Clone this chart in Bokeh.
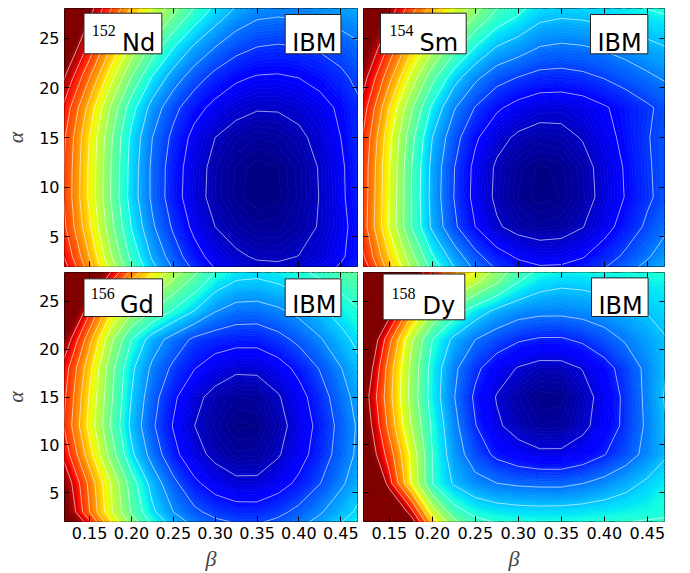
import numpy as np
from bokeh.plotting import figure
from bokeh.plotting.contour import contour_data
from bokeh.models import (Range1d, FixedTicker, LinearAxis, BoxAnnotation, Label,
                          ColumnDataSource, NumeralTickFormatter)
from bokeh.transform import linear_cmap
from bokeh.layouts import column, row
from bokeh.embed import file_html
from bokeh.resources import INLINE

# ---------------- data ----------------
BETA = [0.100, 0.125, 0.150, 0.175, 0.200, 0.225, 0.250, 0.275,
        0.300, 0.325, 0.350, 0.375, 0.400, 0.425, 0.450, 0.475]
ALPHA = [0, 3, 6, 9, 12, 15, 18, 21, 24, 27, 30]

Z_ND152 = [
    [18.2, 15.8, 13.3, 10.6, 8.1, 6.05, 4.6, 3.45, 2.55, 2.05, 1.75, 1.7, 1.8, 2.1, 2.55, 3.1],
    [16.85, 14.45, 11.95, 9.15, 6.7, 4.85, 3.5, 2.4, 1.6, 1.15, 0.9, 0.86, 1.02, 1.35, 1.86, 2.55],
    [16.15, 13.65, 11.15, 8.35, 5.95, 4.15, 2.85, 1.75, 1.0, 0.6, 0.39, 0.41, 0.63, 1.07, 1.71, 2.55],
    [15.9, 13.4, 10.75, 8.0, 5.55, 3.8, 2.45, 1.4, 0.68, 0.29, 0.12, 0.19, 0.49, 1.03, 1.79, 2.78],
    [15.95, 13.45, 10.8, 8.05, 5.6, 3.8, 2.5, 1.45, 0.71, 0.32, 0.15, 0.22, 0.52, 1.06, 1.82, 2.8],
    [16.1, 13.6, 10.95, 8.2, 5.75, 4.0, 2.75, 1.7, 1.0, 0.62, 0.46, 0.53, 0.8, 1.29, 2.0, 2.9],
    [16.8, 14.2, 11.6, 8.9, 6.4, 4.6, 3.3, 2.35, 1.72, 1.28, 1.07, 1.08, 1.27, 1.64, 2.18, 2.9],
    [18.1, 15.5, 13.0, 10.4, 7.9, 5.9, 4.5, 3.45, 2.65, 2.15, 1.9, 1.86, 2.0, 2.3, 2.75, 3.36],
    [19.6, 17.0, 14.6, 12.0, 9.6, 7.6, 6.0, 4.8, 3.95, 3.3, 2.95, 2.85, 2.93, 3.12, 3.43, 3.84],
    [21.3, 18.6, 16.0, 13.6, 11.3, 9.4, 7.8, 6.4, 5.35, 4.5, 4.05, 3.95, 4.01, 4.15, 4.37, 4.67],
    [23.0, 20.3, 17.4, 15.1, 12.9, 11.1, 9.5, 8.0, 6.6, 5.7, 5.15, 5.0, 5.05, 5.17, 5.35, 5.6],
]
Z_SM154 = [
    [17.5, 15.0, 12.4, 9.8, 7.5, 5.9, 4.6, 3.7, 3.15, 2.9, 2.94, 3.2, 3.72, 4.32, 4.94, 5.54],
    [16.0, 13.6, 11.0, 8.4, 6.1, 4.55, 3.3, 2.4, 1.87, 1.62, 1.65, 1.94, 2.52, 3.2, 3.9, 4.57],
    [15.6, 12.9, 9.9, 7.05, 4.8, 3.2, 2.0, 1.12, 0.67, 0.49, 0.58, 0.97, 1.64, 2.41, 3.18, 3.93],
    [15.7, 13.0, 10.0, 7.05, 4.65, 3.0, 1.7, 0.81, 0.33, 0.14, 0.23, 0.62, 1.29, 2.06, 2.83, 3.45],
    [15.75, 13.05, 10.05, 7.1, 4.7, 3.05, 1.75, 0.86, 0.38, 0.19, 0.28, 0.67, 1.34, 2.11, 2.88, 3.45],
    [16.0, 13.3, 10.3, 7.4, 5.0, 3.4, 2.15, 1.3, 0.84, 0.65, 0.73, 1.06, 1.63, 2.28, 2.94, 3.45],
    [16.6, 13.9, 11.0, 8.2, 5.8, 4.1, 2.95, 2.15, 1.65, 1.35, 1.31, 1.5, 1.9, 2.35, 2.85, 3.35],
    [17.6, 14.9, 12.3, 9.7, 7.3, 5.4, 4.2, 3.35, 2.95, 2.65, 2.61, 2.75, 3.03, 3.41, 3.8, 4.17],
    [19.0, 16.2, 13.7, 11.3, 9.2, 7.4, 5.9, 4.9, 4.45, 3.93, 3.8, 3.89, 4.1, 4.38, 4.7, 4.99],
    [21.0, 17.8, 15.2, 12.9, 11.0, 9.4, 7.8, 6.5, 5.85, 5.17, 5.0, 5.07, 5.22, 5.44, 5.68, 5.89],
    [23.5, 19.6, 16.8, 14.5, 12.8, 11.2, 9.6, 8.0, 7.17, 6.3, 6.1, 6.16, 6.31, 6.51, 6.73, 6.93],
]
Z_GD156 = [
    [22.5, 19.0, 15.5, 12.0, 9.0, 6.9, 5.6, 4.7, 4.1, 3.85, 3.77, 4.04, 4.48, 5.02, 5.62, 6.22],
    [18.0, 15.0, 12.0, 9.2, 6.9, 5.2, 4.0, 3.2, 2.7, 2.45, 2.43, 2.75, 3.26, 3.89, 4.59, 5.29],
    [17.0, 14.4, 11.7, 9.0, 6.5, 4.6, 3.25, 2.2, 1.54, 1.19, 1.19, 1.58, 2.2, 2.97, 3.82, 4.67],
    [15.67, 13.1, 10.37, 7.6, 5.2, 3.6, 2.28, 1.33, 0.76, 0.45, 0.47, 0.91, 1.61, 2.46, 3.41, 4.36],
    [14.9, 12.4, 9.65, 6.98, 4.74, 3.15, 1.94, 1.01, 0.47, 0.17, 0.21, 0.67, 1.4, 2.3, 3.3, 4.3],
    [15.14, 12.64, 9.89, 7.22, 4.98, 3.39, 2.18, 1.25, 0.71, 0.41, 0.45, 0.91, 1.64, 2.54, 3.54, 4.54],
    [15.5, 13.0, 10.3, 7.4, 5.2, 3.8, 2.8, 2.04, 1.48, 1.16, 1.18, 1.59, 2.25, 3.06, 3.96, 4.86],
    [17.0, 14.3, 11.3, 8.3, 6.0, 4.5, 3.6, 2.8, 2.5, 2.34, 2.33, 2.68, 3.23, 3.9, 4.65, 5.4],
    [19.5, 16.5, 13.2, 10.2, 8.2, 7.0, 5.9, 5.0, 4.06, 3.61, 3.57, 3.84, 4.28, 4.82, 5.42, 6.02],
    [23.0, 19.8, 16.0, 13.0, 10.8, 9.2, 7.8, 6.63, 5.49, 4.93, 4.85, 5.07, 5.42, 5.86, 6.34, 6.82],
    [27.0, 23.0, 19.0, 16.0, 13.5, 11.6, 9.8, 8.33, 6.85, 6.17, 6.05, 6.24, 6.55, 6.92, 7.34, 7.76],
]
Z_DY158 = [
    [27.0, 23.5, 20.0, 15.5, 11.0, 8.0, 6.4, 5.9, 5.7, 5.62, 5.5, 5.55, 5.6, 5.7, 5.8, 5.9],
    [21.0, 17.5, 14.5, 11.5, 7.5, 5.4, 4.7, 4.45, 4.35, 4.3, 4.33, 4.4, 4.5, 4.6, 4.7, 4.8],
    [19.0, 15.5, 11.4, 8.0, 5.0, 3.9, 3.3, 3.0, 2.85, 2.8, 2.79, 2.98, 3.3, 3.7, 4.15, 4.6],
    [16.0, 13.0, 10.5, 7.8, 5.0, 3.5, 2.5, 1.8, 1.4, 1.16, 1.16, 1.46, 1.96, 2.57, 3.28, 3.98],
    [15.05, 12.5, 9.68, 7.05, 4.84, 3.28, 2.04, 1.14, 0.63, 0.35, 0.38, 0.78, 1.43, 2.23, 3.17, 4.09],
    [14.62, 12.12, 9.33, 6.7, 4.55, 3.05, 1.84, 0.94, 0.45, 0.17, 0.21, 0.64, 1.35, 2.22, 3.24, 4.24],
    [15.5, 12.7, 9.5, 6.8, 4.6, 3.2, 2.2, 1.45, 0.94, 0.66, 0.68, 1.04, 1.65, 2.39, 3.25, 4.1],
    [16.5, 13.5, 10.3, 7.2, 5.0, 3.8, 3.0, 2.5, 2.1, 1.91, 1.9, 2.16, 2.59, 3.11, 3.6, 4.0],
    [19.0, 15.8, 12.6, 9.5, 7.0, 5.5, 4.5, 3.8, 3.4, 3.25, 3.24, 3.35, 3.55, 3.8, 4.05, 4.3],
    [23.0, 19.5, 15.8, 12.5, 10.0, 8.4, 7.2, 6.1, 5.0, 4.4, 4.2, 4.25, 4.35, 4.45, 4.55, 4.65],
    [27.0, 23.5, 19.5, 15.8, 13.0, 11.0, 9.4, 7.6, 6.3, 5.6, 5.3, 5.3, 5.35, 5.4, 5.45, 5.5],
]
MASS = ["152", "154", "156", "158"]
ELEMENT = ["Nd", "Sm", "Gd", "Dy"]
MODEL = "IBM"
CAP = [16.5, 16.0, 15.0, 12.5]          # colour-scale top (saturated dark red above)
X_TICKS = [0.15, 0.20, 0.25, 0.30, 0.35, 0.40, 0.45]
Y_TICKS = [5, 10, 15, 20, 25]
X_RANGE = (0.12, 0.47)
Y_RANGE = (2, 28)

# ---------------- style ----------------
def jet_palette(n=256):
    t = np.linspace(0, 1, n)
    r = np.interp(t, [0, 0.35, 0.66, 0.89, 1], [0, 0, 1, 1, 0.5])
    g = np.interp(t, [0, 0.125, 0.375, 0.64, 0.91, 1], [0, 0, 1, 1, 0, 0])
    b = np.interp(t, [0, 0.11, 0.34, 0.65, 1], [0.5, 1, 1, 0, 0])
    return ["#%02x%02x%02x" % (int(round(255 * a)), int(round(255 * c)), int(round(255 * d)))
            for a, c, d in zip(r, g, b)]

JET = jet_palette()
FRAME_W, FRAME_H = 301, 258
TICK_FONT = "DejaVu Sans"
LABEL_FONT = "Liberation Serif"

def fx(px):
    return X_RANGE[0] + px * (X_RANGE[1] - X_RANGE[0]) / FRAME_W

def fy(py):
    return Y_RANGE[1] - py * (Y_RANGE[1] - Y_RANGE[0]) / FRAME_H

def style_axis(ax, ticks, labels, fmt=None):
    ax.ticker = FixedTicker(ticks=ticks)
    ax.major_tick_in = 5
    ax.major_tick_out = 0
    ax.major_tick_line_color = "black"
    ax.minor_tick_line_color = None
    ax.axis_line_color = None
    if labels:
        ax.major_label_text_font = TICK_FONT
        ax.major_label_text_font_size = "16px"
        ax.major_label_text_color = "black"
        ax.major_label_standoff = 5
        if fmt is not None:
            ax.formatter = fmt
    else:
        ax.major_label_text_font_size = "0px"
        ax.major_label_text_color = None
        ax.major_label_standoff = 0

BOXES = [
    dict(box=(20, 4.7, 100, 45.3), mx=28, ex=59, mb=22, eb=34, ibox=(226.7, 6, 284, 45.3), ix=234),
    dict(box=(17, 4.7, 102.7, 45.3), mx=26, ex=56, mb=22, eb=34, ibox=(227, 6, 284.3, 45.3), ix=234),
    dict(box=(20, 6.6, 100.7, 45.6), mx=27, ex=57, mb=22, eb=34, ibox=(226.7, 6.6, 284, 45.6), ix=234),
    dict(box=(19.6, 1.6, 101.3, 49), mx=28, ex=59, mb=22, eb=35, ibox=(228, 5.6, 284.6, 45.6), ix=235),
]

def make_panel(i, z, is_left, is_top):
    ml = 56 if is_left else 3
    mr = 3 if is_left else 26
    mt = 8 if is_top else 3
    mb = 3 if is_top else 43
    p = figure(width=ml + FRAME_W + mr, height=mt + FRAME_H + mb,
               x_range=Range1d(*X_RANGE), y_range=Range1d(*Y_RANGE),
               output_backend="svg", toolbar_location=None,
               min_border_left=ml, min_border_right=mr,
               min_border_top=mt, min_border_bottom=mb)
    p.xgrid.visible = False
    p.ygrid.visible = False
    p.outline_line_color = "black"
    p.outline_line_width = 1
    p.background_fill_color = "white"
    p.border_fill_color = "white"

    zarr = np.array(z, dtype=float)
    cap = CAP[i]
    fill_levels = list(np.linspace(0.0, cap, 145)) + [1000.0]
    cd = contour_data(x=BETA, y=ALPHA, z=zarr, levels=fill_levels, want_fill=True, want_line=False)
    fd = cd.fill_data
    src = ColumnDataSource(dict(xs=fd.xs, ys=fd.ys, lower=list(fd.lower_levels)))
    cmap = linear_cmap("lower", JET, 0.0, cap, high_color=JET[-1])
    p.multi_polygons(xs="xs", ys="ys", source=src, fill_color=cmap, line_color=cmap, line_width=0.7)

    line_levels = [float(v) for v in np.arange(1, cap)]
    cl = contour_data(x=BETA, y=ALPHA, z=zarr, levels=line_levels, want_fill=False, want_line=True)
    ld = cl.line_data
    p.multi_line(xs=ld.xs, ys=ld.ys, line_color="white", line_alpha=0.6, line_width=1)

    bottom_ax = p.below[0]
    left_ax = p.left[0]
    style_axis(bottom_ax, X_TICKS, not is_top, NumeralTickFormatter(format="0.00"))
    style_axis(left_ax, Y_TICKS, is_left)
    top_ax = LinearAxis()
    style_axis(top_ax, X_TICKS, False)
    p.add_layout(top_ax, "above")
    right_ax = LinearAxis()
    style_axis(right_ax, Y_TICKS, False)
    p.add_layout(right_ax, "right")

    if is_left:
        left_ax.axis_label = "\u03b1"
        left_ax.axis_label_text_font = LABEL_FONT
        left_ax.axis_label_text_font_style = "italic"
        left_ax.axis_label_text_font_size = "22px"
        left_ax.axis_label_standoff = 8
    if not is_top:
        bottom_ax.axis_label = "\u03b2"
        bottom_ax.axis_label_text_font = LABEL_FONT
        bottom_ax.axis_label_text_font_style = "italic"
        bottom_ax.axis_label_text_font_size = "22px"
        bottom_ax.axis_label_standoff = 4

    g = BOXES[i]
    l, t, r, b = g["box"]
    p.add_layout(BoxAnnotation(left=fx(l), right=fx(r), top=fy(t), bottom=fy(b),
                               fill_color="white", fill_alpha=1.0,
                               line_color="#222222", line_width=1, line_alpha=1.0))
    l, t, r, b = g["ibox"]
    p.add_layout(BoxAnnotation(left=fx(l), right=fx(r), top=fy(t), bottom=fy(b),
                               fill_color="white", fill_alpha=1.0,
                               line_color="#222222", line_width=1, line_alpha=1.0))
    p.add_layout(Label(x=fx(g["mx"]), y=fy(g["mb"]), text=MASS[i], text_font=LABEL_FONT,
                       text_font_size="16px", text_color="black",
                       text_align="left", text_baseline="alphabetic"))
    p.add_layout(Label(x=fx(g["ex"]), y=fy(g["eb"]), text=ELEMENT[i], text_font=TICK_FONT,
                       text_font_size="24px", text_color="black",
                       text_align="left", text_baseline="alphabetic"))
    p.add_layout(Label(x=fx(g["ix"]), y=fy(g["eb"]), text=MODEL, text_font=TICK_FONT,
                       text_font_size="24px", text_color="black",
                       text_align="left", text_baseline="alphabetic"))
    return p

ZS = [Z_ND152, Z_SM154, Z_GD156, Z_DY158]
p1 = make_panel(0, ZS[0], True, True)
p2 = make_panel(1, ZS[1], False, True)
p3 = make_panel(2, ZS[2], True, False)
p4 = make_panel(3, ZS[3], False, False)

layout = column(row(p1, p2, spacing=0), row(p3, p4, spacing=0), spacing=0)
open("out.html", "w").write(file_html(layout, INLINE))
